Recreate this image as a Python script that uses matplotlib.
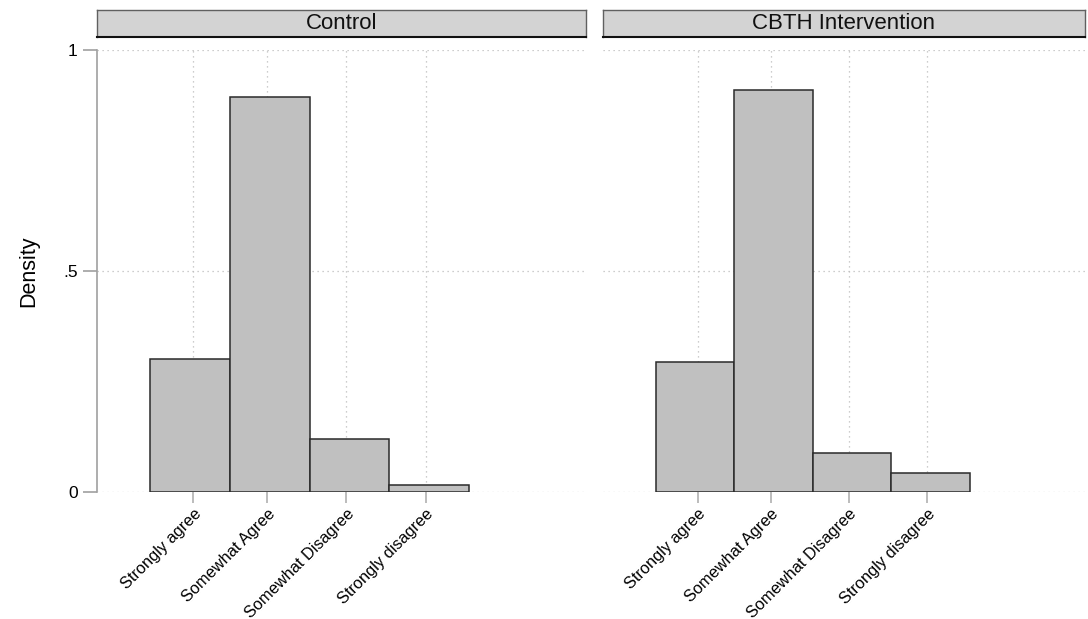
import matplotlib
matplotlib.use("Agg")
import matplotlib.pyplot as plt

plt.rcParams['font.family'] = ['Liberation Sans', 'DejaVu Sans']

categories = ["Strongly agree", "Somewhat Agree", "Somewhat Disagree", "Strongly disagree"]
bar_pos = [1, 2, 3, 4]
tick_pos = [1.04, 1.97, 2.96, 3.96]
panels = ["Control", "CBTH Intervention"]
control_vals = [0.301, 0.894, 0.119, 0.015]
cbth_vals = [0.294, 0.909, 0.088, 0.042]
yticks = [0, 0.5, 1]
ytick_labels = ["0", ".5", "1"]

W, H = 1088, 619
fig = plt.figure(figsize=(W / 100, H / 100), dpi=100)
fig.patch.set_facecolor("white")

def fx(px):
    return px / W

def fy(py):
    return 1 - py / H

layout = [(97, 586), (603, 1085)]
ax_top, ax_bot = 50, 492
strip_top, strip_bot = 10, 37
grid_kw = dict(color="#bdbdbd", lw=0.9, ls=(0, (1, 3)), zorder=0)

for i, (name, vals) in enumerate(zip(panels, [control_vals, cbth_vals])):
    x0, x1 = layout[i]
    ax = fig.add_axes([fx(x0), fy(ax_bot), fx(x1) - fx(x0), fy(ax_top) - fy(ax_bot)])
    ax.set_xlim(-0.17, 5.97)
    ax.set_ylim(0, 1)
    for y in yticks:
        ax.axhline(y, **grid_kw)
    for t in tick_pos:
        ax.axvline(t, **grid_kw)
    ax.bar(bar_pos, vals, width=1.0, color="#c0c0c0", edgecolor="#2a2a2a",
           linewidth=1.1, zorder=2)
    for s in ["top", "right", "bottom"]:
        ax.spines[s].set_visible(False)
    ax.set_xticks(tick_pos)
    ax.set_xticklabels(categories, rotation=45, ha="right", rotation_mode="anchor",
                       fontsize=11.8)
    ax.tick_params(axis="x", length=8, width=1.2, color="#b0b0b0", pad=2)
    if i == 0:
        ax.spines["left"].set_color("#a0a0a0")
        ax.spines["left"].set_linewidth(1.2)
        ax.set_yticks(yticks)
        ax.set_yticklabels(ytick_labels, fontsize=12.5)
        ax.tick_params(axis="y", length=10, width=1.2, color="#a0a0a0", pad=4)
    else:
        ax.spines["left"].set_visible(False)
        ax.set_yticks([])
    # strip
    sax = fig.add_axes([fx(x0), fy(strip_bot), fx(x1) - fx(x0), fy(strip_top) - fy(strip_bot)])
    sax.set_xlim(0, 1)
    sax.set_ylim(0, 1)
    sax.set_facecolor("#d3d3d3")
    for s in sax.spines.values():
        s.set_color("#606060")
        s.set_linewidth(1.0)
    sax.spines["bottom"].set_color("#111111")
    sax.spines["bottom"].set_linewidth(1.5)
    sax.set_xticks([])
    sax.set_yticks([])
    sax.text(0.5, 0.5, name, ha="center", va="center", fontsize=16, color="#111111")

fig.text(fx(29), fy(271), "Density", rotation=90, ha="center", va="center", fontsize=15.5)

fig.savefig("out.png", dpi=100)
